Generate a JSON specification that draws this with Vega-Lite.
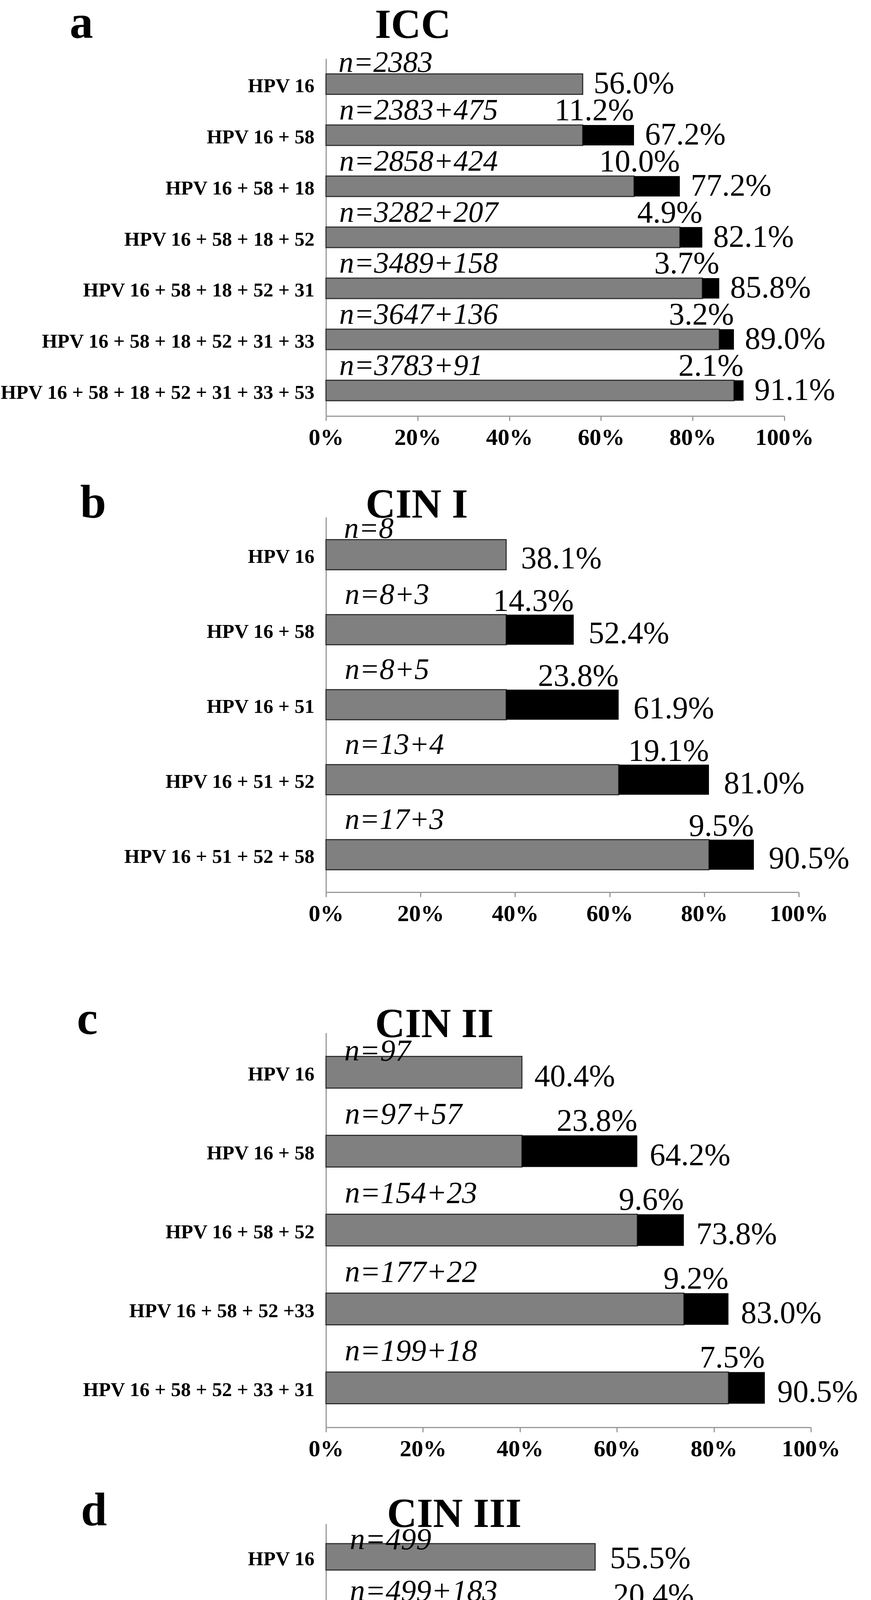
{
  "$schema": "https://vega.github.io/schema/vega-lite/v6.json",
  "autosize": {"type": "pad"},
  "padding": {"left": 0, "top": 0, "right": 0, "bottom": 0},
  "background": "white",
  "config": {"view": {"stroke": null}, "font": "Liberation Serif"},
  "datasets": {
    "icc": [
      {"row": 1, "combo": "HPV 16", "grey": 56.0, "cum": 56.0, "n": "n=2383", "inc": "", "tot": "56.0%"},
      {"row": 2, "combo": "HPV 16 + 58", "grey": 56.0, "cum": 67.2, "n": "n=2383+475", "inc": "11.2%", "tot": "67.2%"},
      {"row": 3, "combo": "HPV 16 + 58 + 18", "grey": 67.2, "cum": 77.2, "n": "n=2858+424", "inc": "10.0%", "tot": "77.2%"},
      {"row": 4, "combo": "HPV 16 + 58 + 18 + 52", "grey": 77.2, "cum": 82.1, "n": "n=3282+207", "inc": "4.9%", "tot": "82.1%"},
      {"row": 5, "combo": "HPV 16 + 58 + 18 + 52 + 31", "grey": 82.1, "cum": 85.8, "n": "n=3489+158", "inc": "3.7%", "tot": "85.8%"},
      {"row": 6, "combo": "HPV 16 + 58 + 18 + 52 + 31 + 33", "grey": 85.8, "cum": 89.0, "n": "n=3647+136", "inc": "3.2%", "tot": "89.0%"},
      {"row": 7, "combo": "HPV 16 + 58 + 18 + 52 + 31 + 33 + 53", "grey": 89.0, "cum": 91.1, "n": "n=3783+91", "inc": "2.1%", "tot": "91.1%"}
    ],
    "cin1": [
      {"row": 1, "combo": "HPV 16", "grey": 38.1, "cum": 38.1, "n": "n=8", "inc": "", "tot": "38.1%"},
      {"row": 2, "combo": "HPV 16 + 58", "grey": 38.1, "cum": 52.4, "n": "n=8+3", "inc": "14.3%", "tot": "52.4%"},
      {"row": 3, "combo": "HPV 16 + 51", "grey": 38.1, "cum": 61.9, "n": "n=8+5", "inc": "23.8%", "tot": "61.9%"},
      {"row": 4, "combo": "HPV 16 + 51 + 52", "grey": 61.9, "cum": 81.0, "n": "n=13+4", "inc": "19.1%", "tot": "81.0%"},
      {"row": 5, "combo": "HPV 16 + 51 + 52 + 58", "grey": 81.0, "cum": 90.5, "n": "n=17+3", "inc": "9.5%", "tot": "90.5%"}
    ],
    "cin2": [
      {"row": 1, "combo": "HPV 16", "grey": 40.4, "cum": 40.4, "n": "n=97", "inc": "", "tot": "40.4%"},
      {"row": 2, "combo": "HPV 16 + 58", "grey": 40.4, "cum": 64.2, "n": "n=97+57", "inc": "23.8%", "tot": "64.2%"},
      {"row": 3, "combo": "HPV 16 + 58 + 52", "grey": 64.2, "cum": 73.8, "n": "n=154+23", "inc": "9.6%", "tot": "73.8%"},
      {"row": 4, "combo": "HPV 16 + 58 + 52 +33", "grey": 73.8, "cum": 83.0, "n": "n=177+22", "inc": "9.2%", "tot": "83.0%"},
      {"row": 5, "combo": "HPV 16 + 58 + 52 + 33 + 31", "grey": 83.0, "cum": 90.5, "n": "n=199+18", "inc": "7.5%", "tot": "90.5%"}
    ],
    "cin3": [
      {"row": 1, "combo": "HPV 16", "grey": 55.5, "cum": 55.5, "n": "n=499", "inc": "", "tot": "55.5%"},
      {"row": 2, "combo": "HPV 16 + 58", "grey": 55.5, "cum": 75.9, "n": "n=499+183", "inc": "20.4%", "tot": "75.9%"},
      {"row": 3, "combo": "HPV 16 + 58 + 33", "grey": 75.9, "cum": 84.4, "n": "n=682+76", "inc": "8.5%", "tot": "84.4%"},
      {"row": 4, "combo": "HPV 16 + 58 + 33 + 52", "grey": 84.4, "cum": 92.6, "n": "n=758+74", "inc": "8.2%", "tot": "92.6%"},
      {"row": 5, "combo": "HPV 16 + 58 + 33 +52 + 31", "grey": 92.6, "cum": 98.9, "n": "n=832+57", "inc": "6.3%", "tot": "98.9%"},
      {"row": 6, "combo": "HPV 16 + 58 + 33 + 52 + 31 + 18", "grey": 98.9, "cum": 100.0, "n": "n=889+36", "inc": "4%", "tot": ""}
    ]
  },
  "bounds": "flush",
  "spacing": 259,
  "vconcat": [
    {
      "width": 1174,
      "height": 915,
      "data": {"name": "icc"},
      "encoding": {
        "y": {
          "field": "combo", "type": "nominal", "sort": null,
          "scale": {"paddingInner": 0.6, "paddingOuter": 0.3},
          "axis": {
            "title": "a", "titleAngle": 0, "titleX": -627, "titleY": -54, "titleAlign": "center", "titleBaseline": "alphabetic",
            "titleFontSize": 120, "titleFontWeight": "bold", "titleFont": "Liberation Serif", "titleColor": "#000",
            "labelFont": "Liberation Serif", "labelFontWeight": "bold", "labelFontSize": 51, "labelColor": "#000",
            "labelPadding": 30, "labelOffset": 6, "labelLimit": 0, "ticks": false, "domainColor": "#999", "domainWidth": 3
          }
        }
      },
      "layer": [
        {
          "mark": {"type": "bar", "color": "#808080", "stroke": "#333333", "strokeWidth": 3},
          "encoding": {
            "x": {
              "field": "grey", "type": "quantitative",
              "scale": {"domain": [0, 100], "nice": false},
              "axis": {
                "values": [0, 20, 40, 60, 80, 100], "labelExpr": "datum.value + '%'", "grid": false,
                "labelFont": "Liberation Serif", "labelFontWeight": "bold", "labelFontSize": 60, "labelColor": "#000",
                "labelPadding": 14, "labelFlush": false, "labelOverlap": false,
                "tickSize": 12, "tickColor": "#999", "tickWidth": 3, "domainColor": "#999", "domainWidth": 3,
                "title": "ICC", "titleX": 222, "titleY": -969, "titleAlign": "center", "titleBaseline": "alphabetic",
                "titleFontSize": 106, "titleFontWeight": "bold", "titleFont": "Liberation Serif", "titleColor": "#000"
              }
            }
          }
        },
        {
          "mark": {"type": "bar", "color": "#000000"},
          "encoding": {"x": {"field": "grey", "type": "quantitative"}, "x2": {"field": "cum"}}
        },
        {
          "transform": [{"filter": "datum.row == 1"}],
          "mark": {"type": "text", "align": "left", "baseline": "alphabetic", "dx": 32, "dy": -31, "fontStyle": "italic", "fontSize": 76, "font": "Liberation Serif", "color": "#000"},
          "encoding": {"x": {"datum": 0, "type": "quantitative"}, "text": {"field": "n"}}
        },
        {
          "transform": [{"filter": "datum.row > 1"}],
          "mark": {"type": "text", "align": "left", "baseline": "alphabetic", "dx": 34, "dy": -40, "fontStyle": "italic", "fontSize": 76, "font": "Liberation Serif", "color": "#000"},
          "encoding": {"x": {"datum": 0, "type": "quantitative"}, "text": {"field": "n"}}
        },
        {
          "mark": {"type": "text", "align": "right", "baseline": "alphabetic", "dy": -38, "fontSize": 80, "font": "Liberation Serif", "color": "#000"},
          "encoding": {"x": {"field": "cum", "type": "quantitative"}, "text": {"field": "inc"}}
        },
        {
          "mark": {"type": "text", "align": "left", "baseline": "alphabetic", "dx": 28, "dy": 24, "fontSize": 80, "font": "Liberation Serif", "color": "#000"},
          "encoding": {"x": {"field": "cum", "type": "quantitative"}, "text": {"field": "tot"}}
        }
      ]
    },
    {
      "bounds": "flush",
      "spacing": 360,
      "vconcat": [
        {
          "width": 1211,
          "height": 960,
          "data": {"name": "cin1"},
          "encoding": {
            "y": {
              "field": "combo", "type": "nominal", "sort": null,
              "scale": {"paddingInner": 0.6, "paddingOuter": 0.3},
              "axis": {
                "title": "b", "titleAngle": 0, "titleX": -597, "titleY": 0, "titleAlign": "center", "titleBaseline": "alphabetic",
                "titleFontSize": 120, "titleFontWeight": "bold", "titleFont": "Liberation Serif", "titleColor": "#000",
                "labelFont": "Liberation Serif", "labelFontWeight": "bold", "labelFontSize": 51, "labelColor": "#000",
                "labelPadding": 30, "labelOffset": 6, "labelLimit": 0, "ticks": false, "domainColor": "#999", "domainWidth": 3
              }
            }
          },
          "layer": [
            {
              "mark": {"type": "bar", "color": "#808080", "stroke": "#333333", "strokeWidth": 3},
              "encoding": {
                "x": {
                  "field": "grey", "type": "quantitative",
                  "scale": {"domain": [0, 100], "nice": false},
                  "axis": {
                    "values": [0, 20, 40, 60, 80, 100], "labelExpr": "datum.value + '%'", "grid": false,
                    "labelFont": "Liberation Serif", "labelFontWeight": "bold", "labelFontSize": 60, "labelColor": "#000",
                    "labelPadding": 14, "labelFlush": false, "labelOverlap": false,
                    "tickSize": 12, "tickColor": "#999", "tickWidth": 3, "domainColor": "#999", "domainWidth": 3,
                    "title": "CIN I", "titleX": 232, "titleY": -960, "titleAlign": "center", "titleBaseline": "alphabetic",
                    "titleFontSize": 106, "titleFontWeight": "bold", "titleFont": "Liberation Serif", "titleColor": "#000"
                  }
                }
              }
            },
            {
              "mark": {"type": "bar", "color": "#000000"},
              "encoding": {"x": {"field": "grey", "type": "quantitative"}, "x2": {"field": "cum"}}
            },
            {
              "transform": [{"filter": "datum.row == 1"}],
              "mark": {"type": "text", "align": "left", "baseline": "alphabetic", "dx": 46, "dy": -43, "fontStyle": "italic", "fontSize": 76, "font": "Liberation Serif", "color": "#000"},
              "encoding": {"x": {"datum": 0, "type": "quantitative"}, "text": {"field": "n"}}
            },
            {
              "transform": [{"filter": "datum.row > 1"}],
              "mark": {"type": "text", "align": "left", "baseline": "alphabetic", "dx": 48, "dy": -66, "fontStyle": "italic", "fontSize": 76, "font": "Liberation Serif", "color": "#000"},
              "encoding": {"x": {"datum": 0, "type": "quantitative"}, "text": {"field": "n"}}
            },
            {
              "mark": {"type": "text", "align": "right", "baseline": "alphabetic", "dy": -48, "fontSize": 80, "font": "Liberation Serif", "color": "#000"},
              "encoding": {"x": {"field": "cum", "type": "quantitative"}, "text": {"field": "inc"}}
            },
            {
              "mark": {"type": "text", "align": "left", "baseline": "alphabetic", "dx": 38, "dy": 35, "fontSize": 80, "font": "Liberation Serif", "color": "#000"},
              "encoding": {"x": {"field": "cum", "type": "quantitative"}, "text": {"field": "tot"}}
            }
          ]
        },
        {
          "bounds": "flush",
          "spacing": 247,
          "vconcat": [
            {
              "width": 1242,
              "height": 1010,
              "data": {"name": "cin2"},
              "encoding": {
                "y": {
                  "field": "combo", "type": "nominal", "sort": null,
                  "scale": {"paddingInner": 0.6, "paddingOuter": 0.3},
                  "axis": {
                    "title": "c", "titleAngle": 0, "titleX": -612, "titleY": 2, "titleAlign": "center", "titleBaseline": "alphabetic",
                    "titleFontSize": 120, "titleFontWeight": "bold", "titleFont": "Liberation Serif", "titleColor": "#000",
                    "labelFont": "Liberation Serif", "labelFontWeight": "bold", "labelFontSize": 51, "labelColor": "#000",
                    "labelPadding": 30, "labelOffset": 6, "labelLimit": 0, "ticks": false, "domainColor": "#999", "domainWidth": 3
                  }
                }
              },
              "layer": [
                {
                  "mark": {"type": "bar", "color": "#808080", "stroke": "#333333", "strokeWidth": 3},
                  "encoding": {
                    "x": {
                      "field": "grey", "type": "quantitative",
                      "scale": {"domain": [0, 100], "nice": false},
                      "axis": {
                        "values": [0, 20, 40, 60, 80, 100], "labelExpr": "datum.value + '%'", "grid": false,
                        "labelFont": "Liberation Serif", "labelFontWeight": "bold", "labelFontSize": 60, "labelColor": "#000",
                        "labelPadding": 14, "labelFlush": false, "labelOverlap": false,
                        "tickSize": 12, "tickColor": "#999", "tickWidth": 3, "domainColor": "#999", "domainWidth": 3,
                        "title": "CIN II", "titleX": 277, "titleY": -1000, "titleAlign": "center", "titleBaseline": "alphabetic",
                        "titleFontSize": 106, "titleFontWeight": "bold", "titleFont": "Liberation Serif", "titleColor": "#000"
                      }
                    }
                  }
                },
                {
                  "mark": {"type": "bar", "color": "#000000"},
                  "encoding": {"x": {"field": "grey", "type": "quantitative"}, "x2": {"field": "cum"}}
                },
                {
                  "transform": [{"filter": "datum.row == 1"}],
                  "mark": {"type": "text", "align": "left", "baseline": "alphabetic", "dx": 47, "dy": -30, "fontStyle": "italic", "fontSize": 78, "font": "Liberation Serif", "color": "#000"},
                  "encoding": {"x": {"datum": 0, "type": "quantitative"}, "text": {"field": "n"}}
                },
                {
                  "transform": [{"filter": "datum.row > 1"}],
                  "mark": {"type": "text", "align": "left", "baseline": "alphabetic", "dx": 48, "dy": -70, "fontStyle": "italic", "fontSize": 78, "font": "Liberation Serif", "color": "#000"},
                  "encoding": {"x": {"datum": 0, "type": "quantitative"}, "text": {"field": "n"}}
                },
                {
                  "mark": {"type": "text", "align": "right", "baseline": "alphabetic", "dy": -52, "fontSize": 80, "font": "Liberation Serif", "color": "#000"},
                  "encoding": {"x": {"field": "cum", "type": "quantitative"}, "text": {"field": "inc"}}
                },
                {
                  "mark": {"type": "text", "align": "left", "baseline": "alphabetic", "dx": 32, "dy": 36, "fontSize": 80, "font": "Liberation Serif", "color": "#000"},
                  "encoding": {"x": {"field": "cum", "type": "quantitative"}, "text": {"field": "tot"}}
                }
              ]
            },
            {
              "width": 1242,
              "height": 1014,
              "data": {"name": "cin3"},
              "encoding": {
                "y": {
                  "field": "combo", "type": "nominal", "sort": null,
                  "scale": {"paddingInner": 0.6, "paddingOuter": 0.3},
                  "axis": {
                    "title": "d", "titleAngle": 0, "titleX": -595, "titleY": 3, "titleAlign": "center", "titleBaseline": "alphabetic",
                    "titleFontSize": 120, "titleFontWeight": "bold", "titleFont": "Liberation Serif", "titleColor": "#000",
                    "labelFont": "Liberation Serif", "labelFontWeight": "bold", "labelFontSize": 51, "labelColor": "#000",
                    "labelPadding": 30, "labelOffset": 6, "labelLimit": 0, "ticks": false, "domainColor": "#999", "domainWidth": 3
                  }
                }
              },
              "layer": [
                {
                  "mark": {"type": "bar", "color": "#808080", "stroke": "#333333", "strokeWidth": 3},
                  "encoding": {
                    "x": {
                      "field": "grey", "type": "quantitative",
                      "scale": {"domain": [0, 100], "nice": false},
                      "axis": {
                        "values": [0, 20, 40, 60, 80, 100], "labelExpr": "datum.value + '%'", "grid": false,
                        "labelFont": "Liberation Serif", "labelFontWeight": "bold", "labelFontSize": 60, "labelColor": "#000",
                        "labelPadding": 14, "labelFlush": false, "labelOverlap": false,
                        "tickSize": 12, "tickColor": "#999", "tickWidth": 3, "domainColor": "#999", "domainWidth": 3,
                        "title": "CIN III", "titleX": 328, "titleY": -1007, "titleAlign": "center", "titleBaseline": "alphabetic",
                        "titleFontSize": 106, "titleFontWeight": "bold", "titleFont": "Liberation Serif", "titleColor": "#000"
                      }
                    }
                  }
                },
                {
                  "mark": {"type": "bar", "color": "#000000"},
                  "encoding": {"x": {"field": "grey", "type": "quantitative"}, "x2": {"field": "cum"}}
                },
                {
                  "transform": [{"filter": "datum.row == 1"}],
                  "mark": {"type": "text", "align": "left", "baseline": "alphabetic", "dx": 61, "dy": -20, "fontStyle": "italic", "fontSize": 78, "font": "Liberation Serif", "color": "#000"},
                  "encoding": {"x": {"datum": 0, "type": "quantitative"}, "text": {"field": "n"}}
                },
                {
                  "transform": [{"filter": "datum.row > 1"}],
                  "mark": {"type": "text", "align": "left", "baseline": "alphabetic", "dx": 61, "dy": -57, "fontStyle": "italic", "fontSize": 78, "font": "Liberation Serif", "color": "#000"},
                  "encoding": {"x": {"datum": 0, "type": "quantitative"}, "text": {"field": "n"}}
                },
                {
                  "transform": [{"filter": "datum.row <= 5"}],
                  "mark": {"type": "text", "align": "right", "baseline": "alphabetic", "dy": -46, "fontSize": 80, "font": "Liberation Serif", "color": "#000"},
                  "encoding": {"x": {"field": "cum", "type": "quantitative"}, "text": {"field": "inc"}}
                },
                {
                  "transform": [{"filter": "datum.row == 6"}],
                  "mark": {"type": "text", "align": "right", "baseline": "alphabetic", "dx": 4, "dy": 72, "fontSize": 80, "font": "Liberation Serif", "color": "#000"},
                  "encoding": {"x": {"field": "cum", "type": "quantitative"}, "text": {"field": "inc"}}
                },
                {
                  "transform": [{"filter": "datum.row <= 3"}],
                  "mark": {"type": "text", "align": "left", "baseline": "alphabetic", "dx": 38, "dy": 29, "fontSize": 80, "font": "Liberation Serif", "color": "#000"},
                  "encoding": {"x": {"field": "cum", "type": "quantitative"}, "text": {"field": "tot"}}
                },
                {
                  "transform": [{"filter": "datum.row == 4"}],
                  "mark": {"type": "text", "align": "left", "baseline": "alphabetic", "dx": 6, "dy": 29, "fontSize": 80, "font": "Liberation Serif", "color": "#000"},
                  "encoding": {"x": {"field": "cum", "type": "quantitative"}, "text": {"field": "tot"}}
                },
                {
                  "transform": [{"filter": "datum.row == 5"}],
                  "mark": {"type": "text", "align": "left", "baseline": "alphabetic", "dx": -64, "dy": 90, "fontSize": 80, "font": "Liberation Serif", "color": "#000"},
                  "encoding": {"x": {"field": "cum", "type": "quantitative"}, "text": {"field": "tot"}}
                }
              ]
            }
          ]
        }
      ]
    }
  ]
}
